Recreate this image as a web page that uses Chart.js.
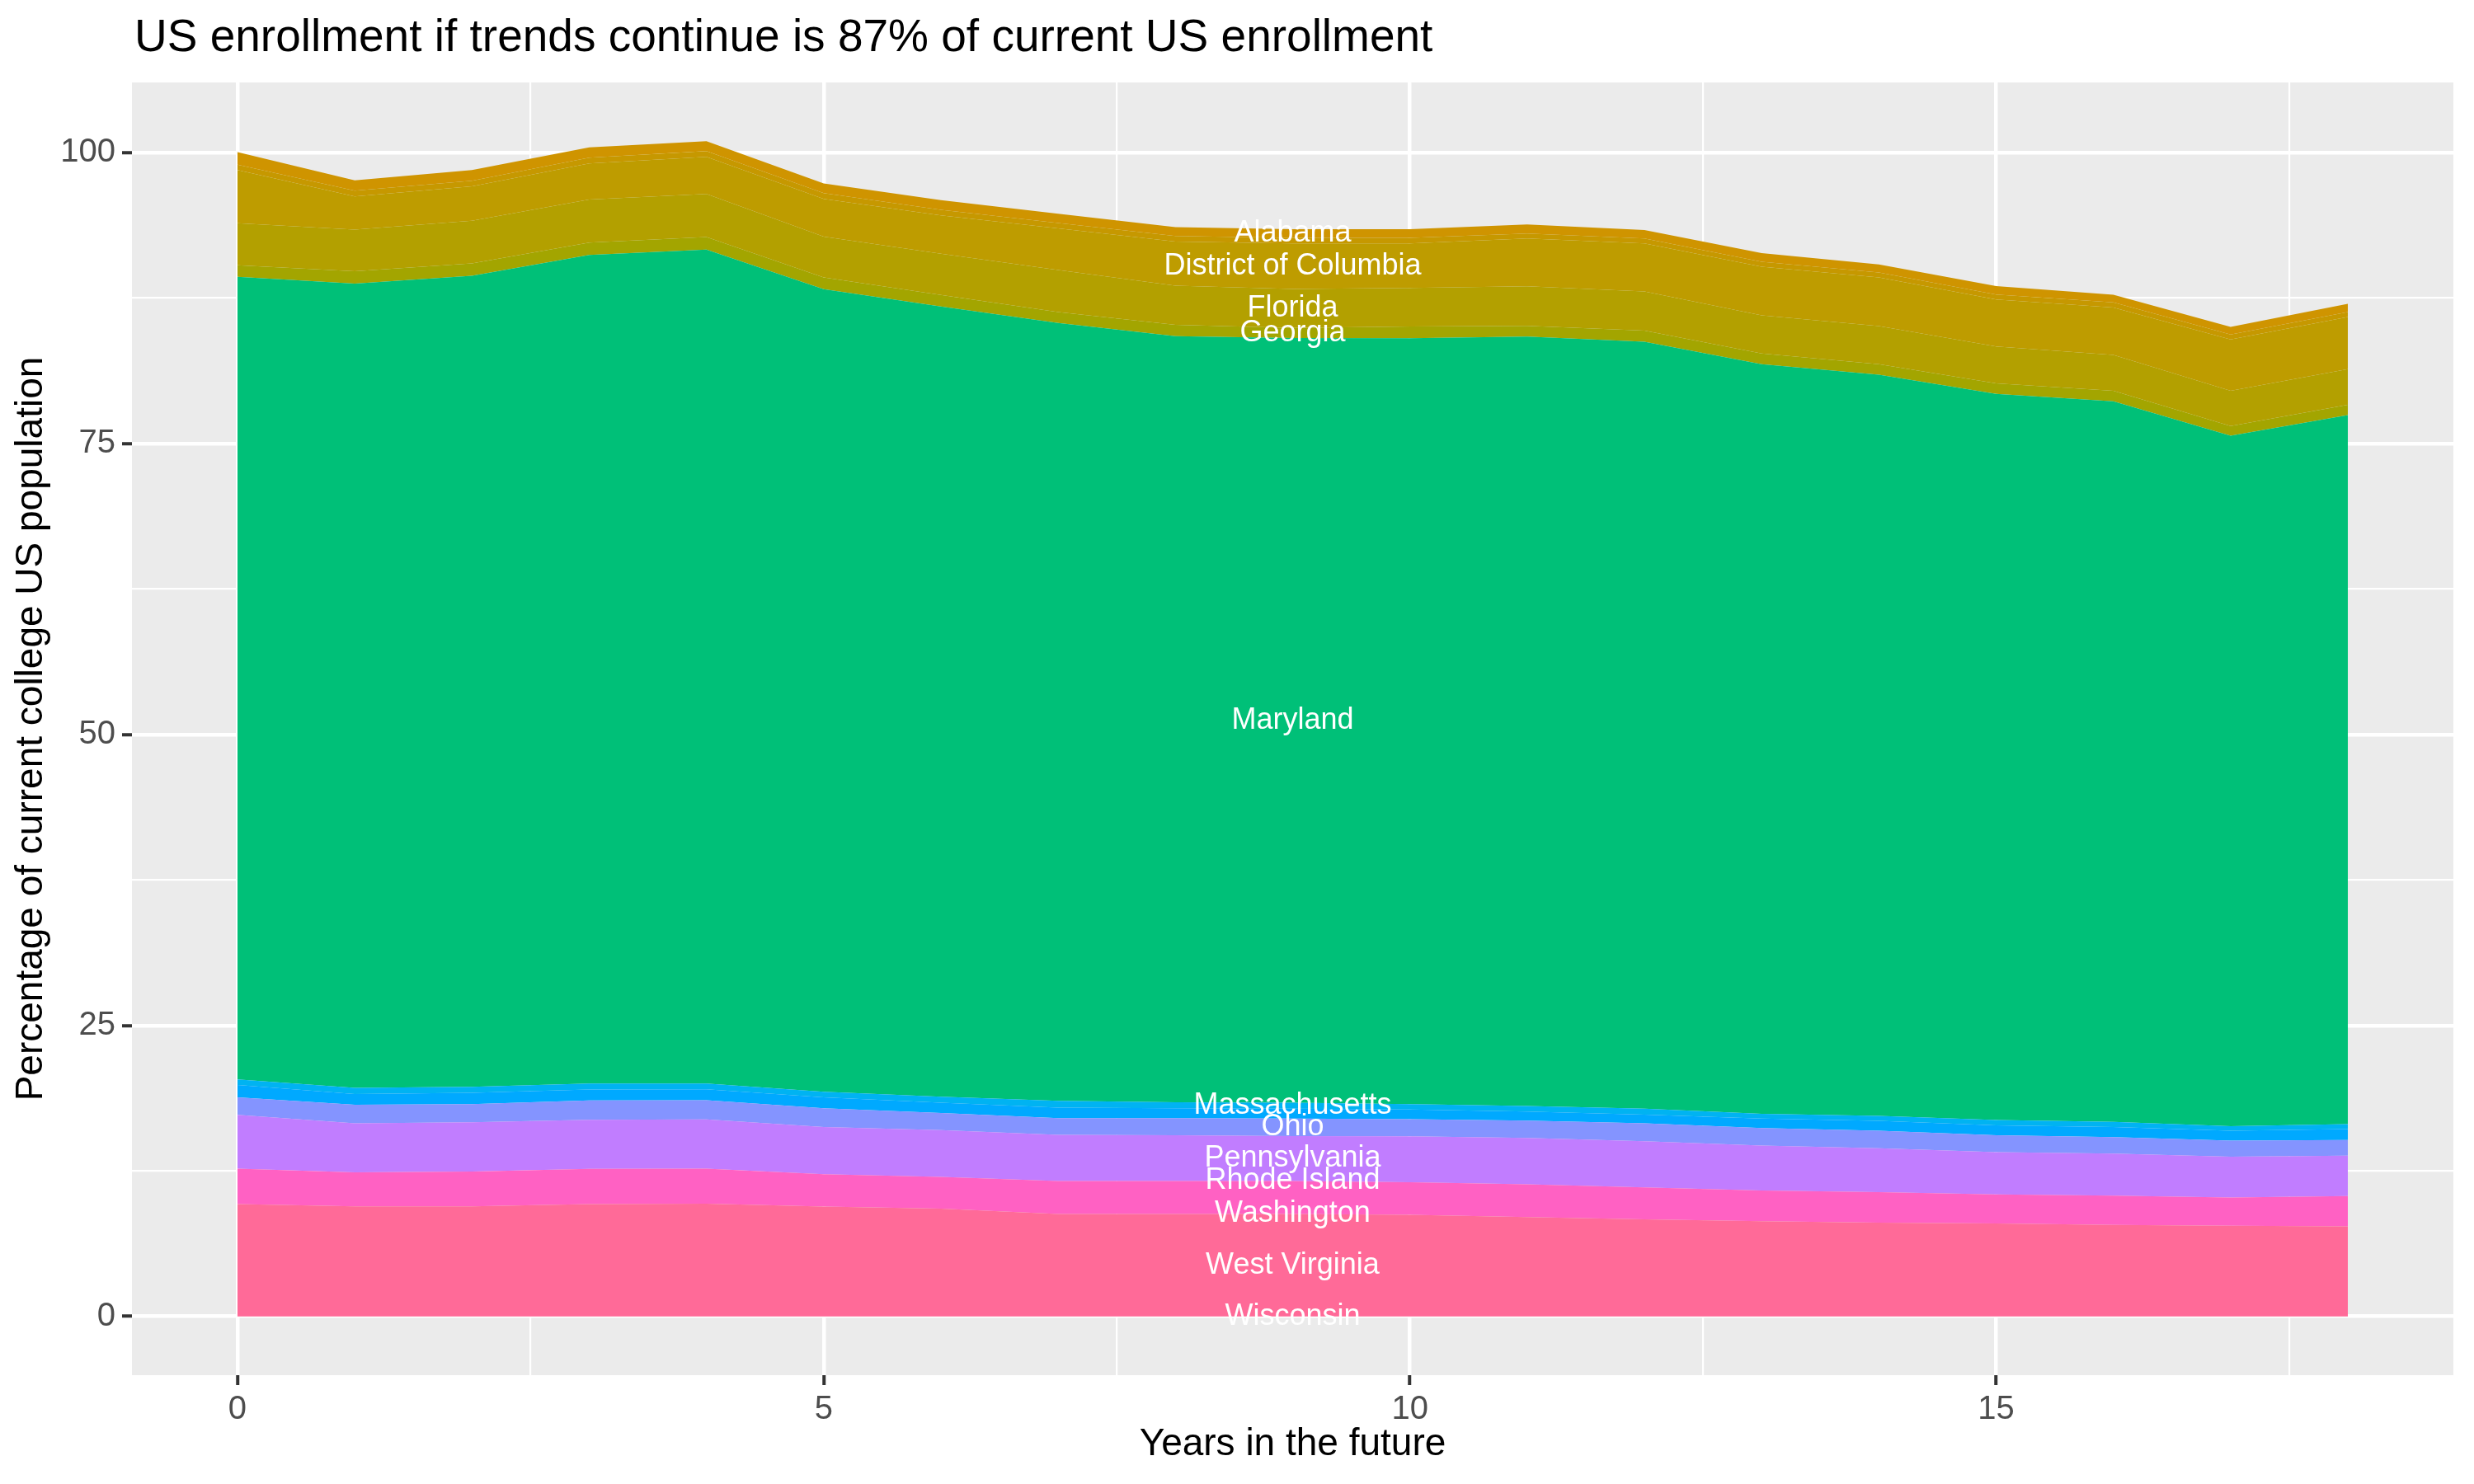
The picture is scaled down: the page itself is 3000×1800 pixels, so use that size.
<!DOCTYPE html>
<html>
<head>
<meta charset="UTF-8">
<title>US enrollment if trends continue</title>
<script src="https://cdn.jsdelivr.net/npm/chart.js@4.4.1/dist/chart.umd.min.js"></script>
<style>
  body { margin: 0; background: #ffffff; }
</style>
</head>
<body>
<canvas id="myChart" width="3000" height="1800"></canvas>

<script>
	// years in the future (x)
	const years = [0,1,2,3,4,5,6,7,8,9,10,11,12,13,14,15,16,17,18];

	// share of current college US population, one array per band, bottom band first
	const wisconsin    = [0,0,0,0,0,0,0,0,0,0,0,0,0,0,0,0,0,0,0];
	const westVirginia = [9.65,9.46,9.46,9.65,9.68,9.44,9.25,8.80,8.80,8.80,8.73,8.54,8.33,8.17,8.05,7.98,7.86,7.79,7.74];
	const washington   = [0,0,0,0,0,0,0,0,0,0,0,0,0,0,0,0,0,0,0];
	const unlabeledA   = [3.05,2.91,2.98,3.02,3.02,2.78,2.74,2.83,2.83,2.83,2.79,2.81,2.76,2.64,2.62,2.50,2.52,2.43,2.60];
	const rhodeIsland  = [0,0,0,0,0,0,0,0,0,0,0,0,0,0,0,0,0,0,0];
	const pennsylvania = [4.62,4.22,4.24,4.22,4.22,4.06,4.01,3.97,3.94,3.87,3.96,3.99,3.96,3.87,3.77,3.63,3.61,3.51,3.47];
	const ohio         = [1.51,1.60,1.56,1.66,1.65,1.61,1.48,1.44,1.47,1.49,1.46,1.48,1.54,1.51,1.51,1.46,1.42,1.37,1.34];
	const unlabeledB   = [1.06,0.92,0.97,0.94,0.94,0.94,0.88,0.89,0.85,0.85,0.83,0.78,0.75,0.80,0.85,0.85,0.87,0.85,0.94];
	const massachusetts= [0.47,0.52,0.52,0.52,0.50,0.47,0.52,0.59,0.51,0.52,0.47,0.47,0.50,0.42,0.43,0.45,0.43,0.40,0.43];
	const maryland     = [68.96,69.10,69.68,71.19,71.64,68.95,67.89,66.83,65.82,65.70,65.81,66.12,65.90,64.40,63.68,62.39,61.91,59.32,60.92];
	const georgia      = [0.99,1.06,1.06,1.06,1.09,1.02,0.99,0.95,0.97,0.87,1.01,0.92,0.95,0.92,0.90,0.90,0.90,0.83,0.88];
	const florida      = [3.61,3.58,3.66,3.71,3.70,3.51,3.54,3.61,3.37,3.35,3.31,3.40,3.37,3.28,3.28,3.18,3.09,3.02,3.06];
	const dc           = [4.57,2.86,2.97,3.09,3.18,3.24,3.30,3.58,3.78,3.91,3.82,4.10,4.13,4.17,4.17,4.04,4.08,4.41,4.49];
	const unlabeledC   = [0.47,0.49,0.47,0.49,0.50,0.49,0.47,0.45,0.49,0.48,0.47,0.43,0.42,0.43,0.43,0.42,0.43,0.43,0.42];
	const alabama      = [1.07,0.88,0.92,0.90,0.85,0.83,0.83,0.80,0.76,0.75,0.75,0.78,0.73,0.75,0.70,0.73,0.66,0.66,0.71];

	// band names (empty = band without a text label in the picture)
	const names = ["Wisconsin","West Virginia","Washington","","Rhode Island","Pennsylvania","Ohio","",
	               "Massachusetts","Maryland","Georgia","Florida","District of Columbia","","Alabama"];
	const series = [wisconsin,westVirginia,washington,unlabeledA,rhodeIsland,pennsylvania,ohio,unlabeledB,
	                massachusetts,maryland,georgia,florida,dc,unlabeledC,alabama];

	// tick labels
	const xTicks = [0,5,10,15];
	const yTicks = [0,25,50,75,100];
	const labelYear = 9; // where the state names sit

	const fills = ["#FF6A98","#FF6A98","#FF61C3","#FF61C3","#FF61C3","#C17DFF","#8494FF","#00A9FF",
	               "#00B3F2","#00C078","#A3A500","#B3A000","#BE9C00","#C69800","#CF9400"];

	const datasets = series.map((vals, i) => ({
		label: names[i],
		data: vals.map((v, j) => ({x: years[j], y: v})),
		backgroundColor: fills[i],
		borderWidth: 0,
		pointRadius: 0,
		tension: 0,
		fill: i === 0 ? 'origin' : '-1'
	}));

	// grey panel + title + labels in the bands
	const panelBg = {
		id: 'panelBg',
		beforeDraw(chart) {
			const {ctx, chartArea: a} = chart;
			ctx.save();
			ctx.fillStyle = '#EBEBEB';
			ctx.fillRect(a.left, a.top, a.right - a.left, a.bottom - a.top);
			ctx.fillStyle = '#000000';
			ctx.font = '55px "Liberation Sans", Arial, sans-serif';
			ctx.textBaseline = 'alphabetic';
			ctx.fillText('US enrollment if trends continue is 87% of current US enrollment', 163, 62);
			ctx.restore();
		},
		afterDatasetsDraw(chart) {
			const {ctx, scales} = chart;
			const idx = years.indexOf(labelYear);
			const px = scales.x.getPixelForValue(labelYear);
			ctx.save();
			ctx.fillStyle = '#FFFFFF';
			ctx.font = '36px "Liberation Sans", Arial, sans-serif';
			ctx.textAlign = 'center';
			ctx.textBaseline = 'middle';
			let base = 0;
			series.forEach((vals, i) => {
				const mid = base + vals[idx] / 2;
				base += vals[idx];
				if (!names[i]) return;
				ctx.fillText(names[i], px, scales.y.getPixelForValue(mid));
			});
			ctx.restore();
		}
	};

	const isMajor = (v, list) => list.indexOf(v) >= 0;

	new Chart("myChart", {
	  type: "line",
	  data: { datasets: datasets },
	  options: {
	    responsive: false,
	    devicePixelRatio: 1,
	    animation: false,
	    layout: { padding: { top: 100, right: 25, left: 0, bottom: 0 } },
	    plugins: { legend: {display: false}, tooltip: {enabled: false}, title: {display: false} },
	    scales: {
	      x: {
	        type: 'linear', min: -0.9, max: 18.9,
	        afterBuildTicks: s => { s.ticks = [0,2.5,5,7.5,10,12.5,15,17.5].map(v => ({value: v})); },
	        afterFit: s => { s.height = 132; },
	        border: {display: false},
	        grid: {
	          color: '#FFFFFF',
	          lineWidth: c => isMajor(c.tick.value, xTicks) ? 4.5 : 2.2,
	          tickColor: c => isMajor(c.tick.value, xTicks) ? '#333333' : 'rgba(0,0,0,0)',
	          tickWidth: 4, tickLength: 12
	        },
	        ticks: {
	          autoSkip: false, maxRotation: 0, padding: 6, color: '#4D4D4D',
	          font: {size: 40, family: '"Liberation Sans", Arial, sans-serif'},
	          callback: v => isMajor(v, xTicks) ? String(v) : ''
	        },
	        title: {
	          display: true, text: 'Years in the future', color: '#000000',
	          font: {size: 46, family: '"Liberation Sans", Arial, sans-serif'},
	          padding: {top: 0, bottom: 20}
	        }
	      },
	      y: {
	        stacked: true, min: -5.05, max: 106.02,
	        afterBuildTicks: s => { s.ticks = [0,12.5,25,37.5,50,62.5,75,87.5,100].map(v => ({value: v})); },
	        afterFit: s => { s.width = 160; },
	        border: {display: false},
	        grid: {
	          color: '#FFFFFF',
	          lineWidth: c => isMajor(c.tick.value, yTicks) ? 4.5 : 2.2,
	          tickColor: c => isMajor(c.tick.value, yTicks) ? '#333333' : 'rgba(0,0,0,0)',
	          tickWidth: 4, tickLength: 12
	        },
	        ticks: {
	          autoSkip: false, padding: 8, color: '#4D4D4D',
	          font: {size: 40, family: '"Liberation Sans", Arial, sans-serif'},
	          callback: v => isMajor(v, yTicks) ? String(v) : ''
	        },
	        title: {
	          display: true, text: 'Percentage of current college US population', color: '#000000',
	          font: {size: 46, family: '"Liberation Sans", Arial, sans-serif'},
	          padding: {top: 11, bottom: 0}
	        }
	      }
	    }
	  },
	  plugins: [panelBg]
	});
</script>
</body>
</html>
